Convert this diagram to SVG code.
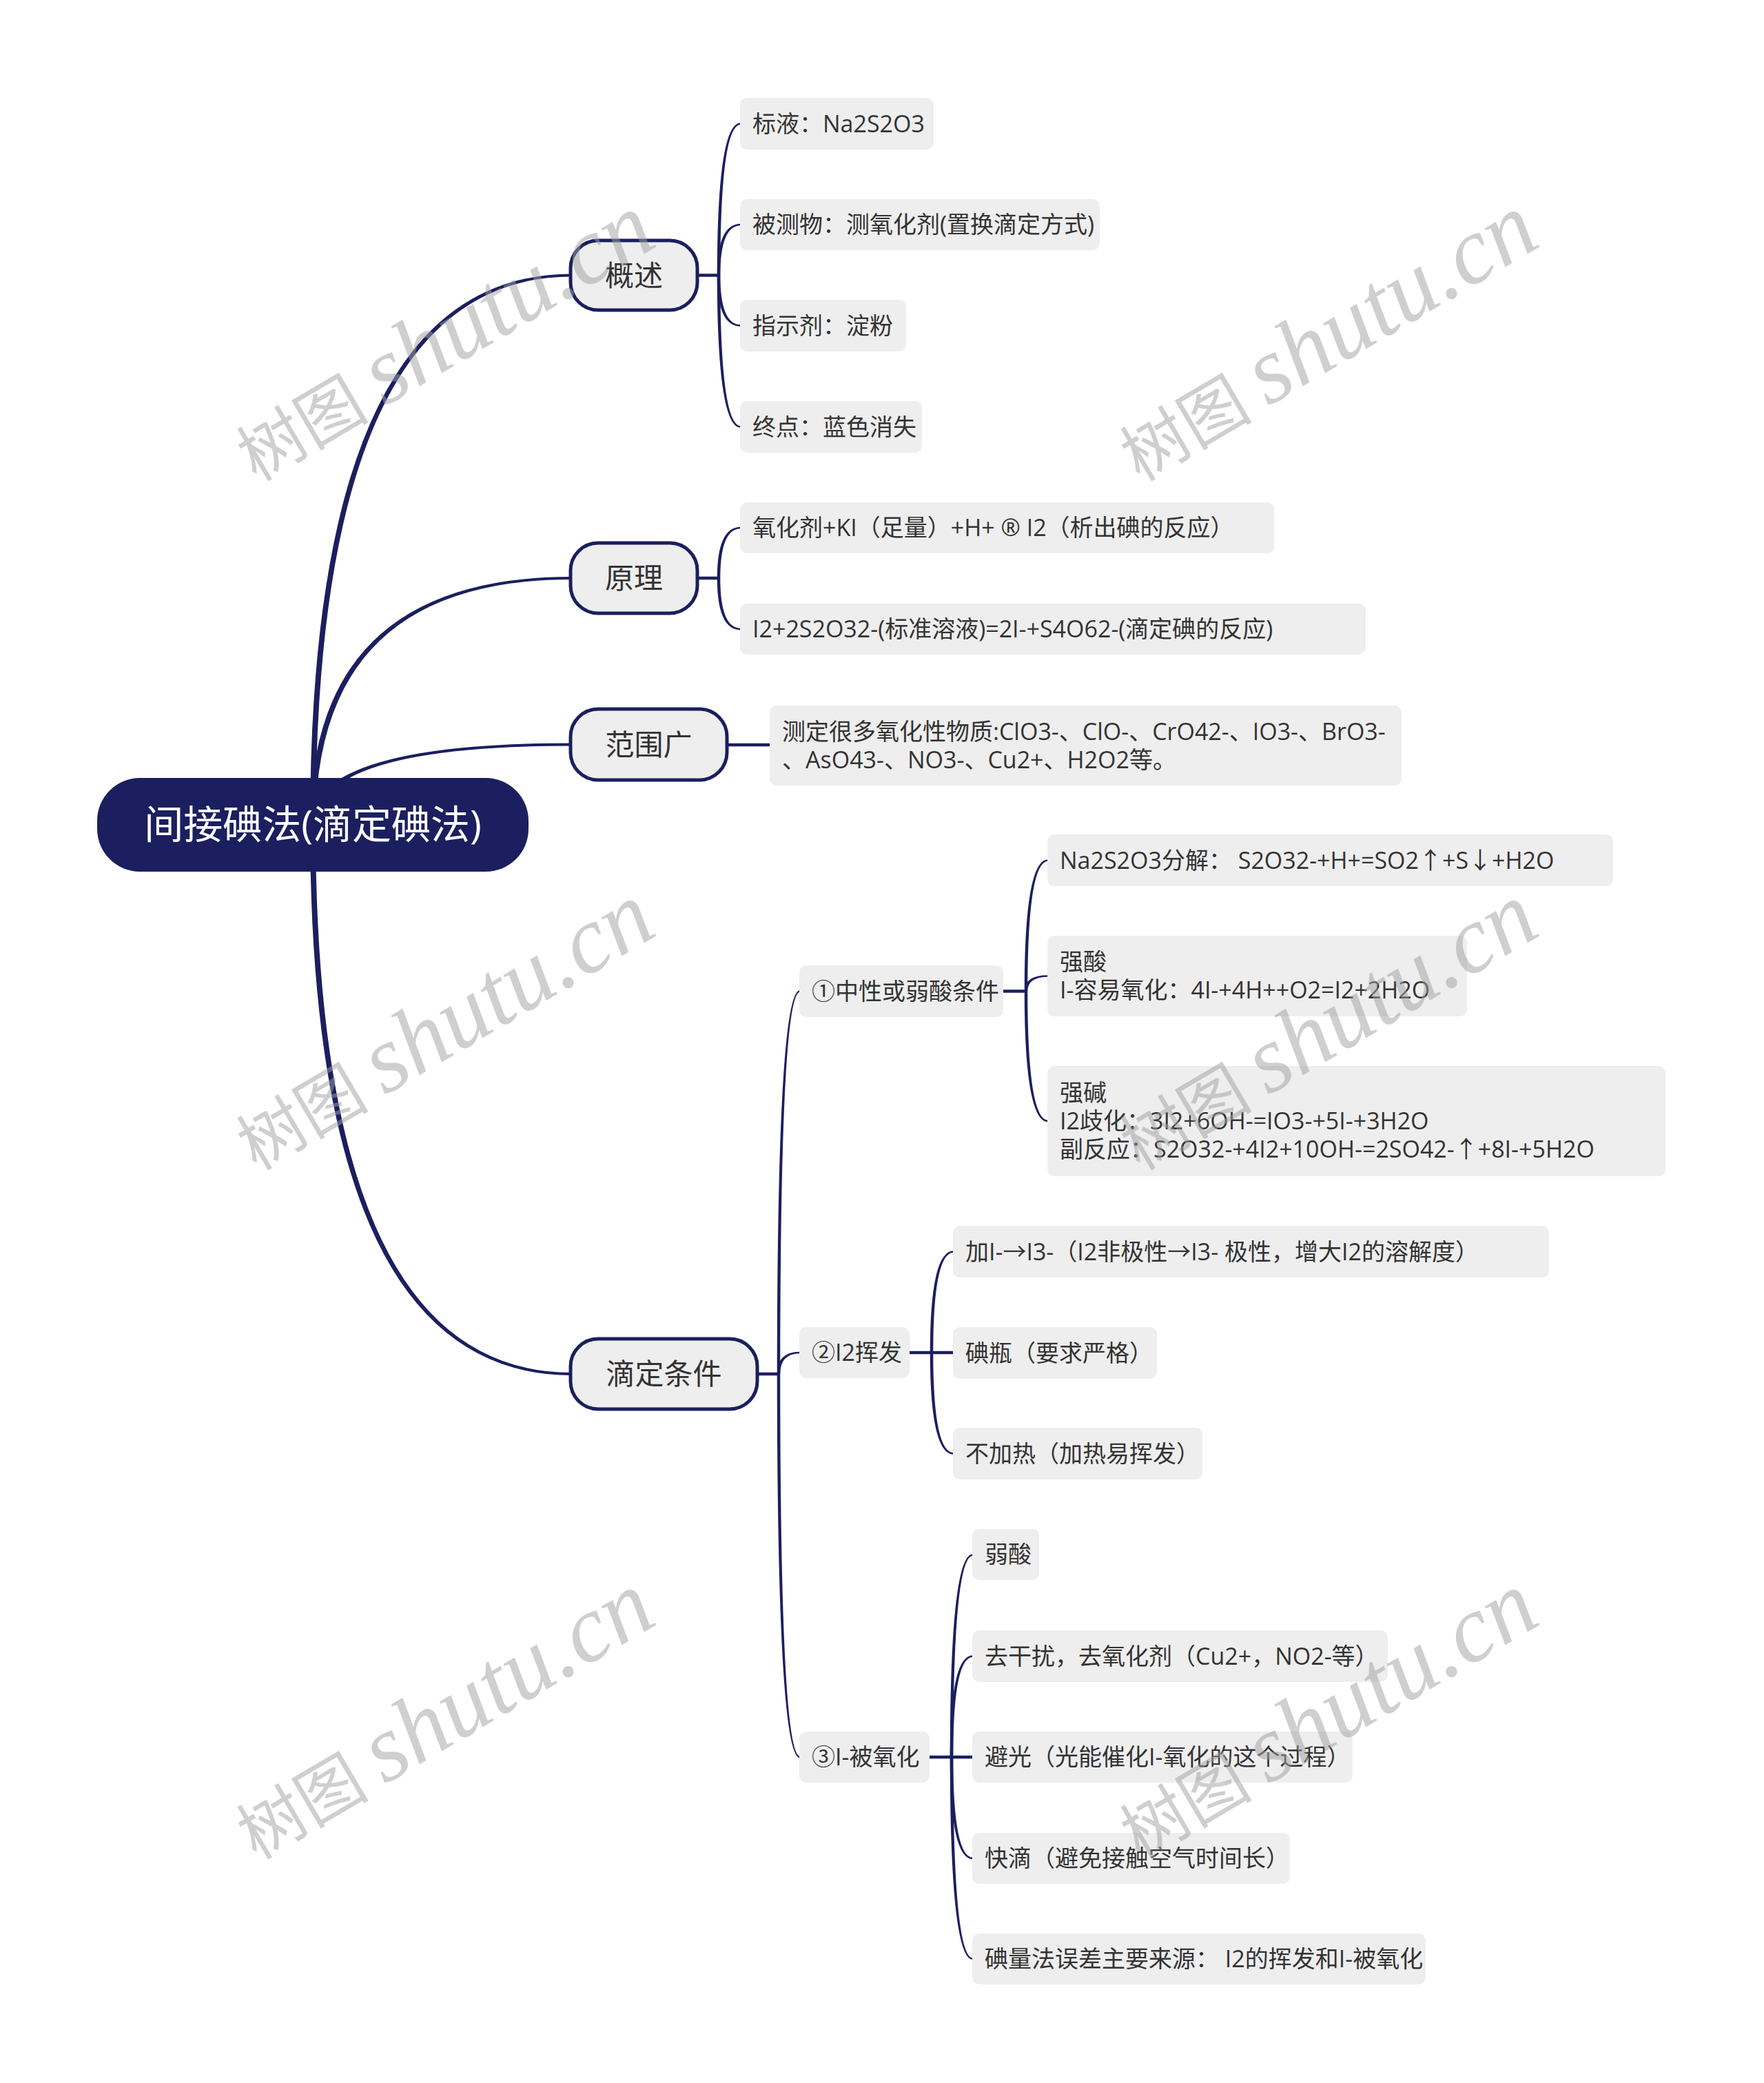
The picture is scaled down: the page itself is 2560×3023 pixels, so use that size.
<svg xmlns="http://www.w3.org/2000/svg" width="2560" height="3023" viewBox="0 0 2560 3023">
<style>
.bg{fill:#ffffff}
.conn{fill:#1b1f5f;stroke:none}
.stub{stroke:#1b1f5f;stroke-width:4.5;fill:none}
.root{fill:#1b1f5f}
.main{fill:#eeeeee;stroke:#1b1f5f;stroke-width:5}
.leaf{fill:#eeeeee}
.t{font-family:"Open Sans","Noto Sans CJK SC",sans-serif;font-size:34px;fill:#333333}
.l1{font-family:"Open Sans","Noto Sans CJK SC",sans-serif;font-size:42px;fill:#333333;text-anchor:middle}
.rt{font-family:"Open Sans","Noto Sans CJK SC",sans-serif;font-size:57px;fill:#ffffff;text-anchor:middle}
.wm{fill:#a0a0a0;opacity:0.5}
.wmc{font-family:"Noto Sans CJK SC",serif;font-size:96px}
.wml{font-family:"Liberation Serif",serif;font-style:italic;font-size:138px}
</style>
<rect class="bg" x="0" y="0" width="2560" height="3023"/>
<g id="connectors">
<path class="conn" d="M450 1197 Q450 397.5 830 397.5 L830 401.5 Q458 401.5 458 1197 Z"/>
<path class="conn" d="M450 1197 Q450 837 830 837 L830 841 Q458 841 458 1197 Z"/>
<path class="conn" d="M450 1197 Q450 1078.5 830 1078.5 L830 1082.5 Q458 1082.5 458 1197 Z"/>
<path class="conn" d="M450 1197 Q450 1996 830 1996 L830 1992 Q458 1992 458 1197 Z"/>
<path class="stub" d="M1010 399.5 H1045"/>
<path class="conn" d="M1040.75 399.5 Q1040.75 178.25 1075 178.25 L1075 180.75 Q1045.25 180.75 1045.25 399.5 Z"/>
<path class="conn" d="M1040.75 399.5 Q1040.75 324.75 1075 324.75 L1075 327.25 Q1045.25 327.25 1045.25 399.5 Z"/>
<path class="conn" d="M1040.75 399.5 Q1040.75 473.75 1075 473.75 L1075 471.25 Q1045.25 471.25 1045.25 399.5 Z"/>
<path class="conn" d="M1040.75 399.5 Q1040.75 620.75 1075 620.75 L1075 618.25 Q1045.25 618.25 1045.25 399.5 Z"/>
<path class="stub" d="M1010 839 H1045"/>
<path class="conn" d="M1040.75 839 Q1040.75 764.75 1075 764.75 L1075 767.25 Q1045.25 767.25 1045.25 839 Z"/>
<path class="conn" d="M1040.75 839 Q1040.75 914.25 1075 914.25 L1075 911.75 Q1045.25 911.75 1045.25 839 Z"/>
<path class="stub" d="M1053 1081 H1119"/>
<path class="stub" d="M1097 1994 H1132"/>
<path class="conn" d="M1127.75 1994 Q1127.75 1437.25 1161 1437.25 L1161 1439.75 Q1132.25 1439.75 1132.25 1994 Z"/>
<path class="conn" d="M1127.75 1994 Q1127.75 1961.75 1161 1961.75 L1161 1964.25 Q1132.25 1964.25 1132.25 1994 Z"/>
<path class="conn" d="M1127.75 1994 Q1127.75 2551.25 1161 2551.25 L1161 2548.75 Q1132.25 2548.75 1132.25 1994 Z"/>
<path class="stub" d="M1455 1438.5 H1491"/>
<path class="conn" d="M1486.75 1438.5 Q1486.75 1247.25 1521 1247.25 L1521 1249.75 Q1491.25 1249.75 1491.25 1438.5 Z"/>
<path class="conn" d="M1486.75 1438.5 Q1486.75 1415.25 1521 1415.25 L1521 1417.75 Q1491.25 1417.75 1491.25 1438.5 Z"/>
<path class="conn" d="M1486.75 1438.5 Q1486.75 1628.25 1521 1628.25 L1521 1625.75 Q1491.25 1625.75 1491.25 1438.5 Z"/>
<path class="stub" d="M1318 1963 H1386"/>
<path class="conn" d="M1349.75 1963 Q1349.75 1815.25 1384 1815.25 L1384 1817.75 Q1354.25 1817.75 1354.25 1963 Z"/>
<path class="conn" d="M1349.75 1963 Q1349.75 2110.75 1384 2110.75 L1384 2108.25 Q1354.25 2108.25 1354.25 1963 Z"/>
<path class="stub" d="M1347 2550 H1414"/>
<path class="conn" d="M1378.75 2550 Q1378.75 2255.25 1412 2255.25 L1412 2257.75 Q1383.25 2257.75 1383.25 2550 Z"/>
<path class="conn" d="M1378.75 2550 Q1378.75 2402.25 1412 2402.25 L1412 2404.75 Q1383.25 2404.75 1383.25 2550 Z"/>
<path class="conn" d="M1378.75 2550 Q1378.75 2698.25 1412 2698.25 L1412 2695.75 Q1383.25 2695.75 1383.25 2550 Z"/>
<path class="conn" d="M1378.75 2550 Q1378.75 2844.25 1412 2844.25 L1412 2841.75 Q1383.25 2841.75 1383.25 2550 Z"/>
</g>
<g id="root"><rect class="root" x="141" y="1129" width="626" height="136" rx="62"/><text class="rt" x="454" y="1217">间接碘法(滴定碘法)</text></g>
<g id="n-gaishu"><rect class="main" x="828" y="349" width="184" height="101" rx="40"/><text class="l1" x="920" y="414.5">概述</text></g>
<g id="n-yuanli"><rect class="main" x="828" y="788" width="184" height="102" rx="40"/><text class="l1" x="920" y="854">原理</text></g>
<g id="n-fanwei"><rect class="main" x="828" y="1029" width="227" height="103" rx="40"/><text class="l1" x="941.5" y="1095.5">范围广</text></g>
<g id="n-tiaojian"><rect class="main" x="828" y="1943" width="271" height="102" rx="40"/><text class="l1" x="963.5" y="2009">滴定条件</text></g>
<g id="l-biaoye"><rect class="leaf" x="1074" y="142" width="281" height="75" rx="10"/><text class="t" x="1092" y="191.5">标液：Na2S2O3</text></g>
<g id="l-beice"><rect class="leaf" x="1074" y="289" width="522" height="74" rx="10"/><text class="t" x="1092" y="338">被测物：测氧化剂(置换滴定方式)</text></g>
<g id="l-zhishi"><rect class="leaf" x="1074" y="435" width="241" height="75" rx="10"/><text class="t" x="1092" y="484.5">指示剂：淀粉</text></g>
<g id="l-zhongdian"><rect class="leaf" x="1074" y="582" width="264" height="75" rx="10"/><text class="t" x="1092" y="631.5">终点：蓝色消失</text></g>
<g id="l-yl1"><rect class="leaf" x="1074" y="729" width="775" height="74" rx="10"/><text class="t" x="1092" y="778">氧化剂+KI（足量）+H+ ® I2（析出碘的反应）</text></g>
<g id="l-yl2"><rect class="leaf" x="1074" y="876" width="908" height="74" rx="10"/><text class="t" x="1092" y="925">I2+2S2O32-(标准溶液)=2I-+S4O62-(滴定碘的反应)</text></g>
<g id="l-fw"><rect class="leaf" x="1117" y="1024" width="917" height="116" rx="10"/><text class="t" x="1135" y="1073.5">测定很多氧化性物质:ClO3-、ClO-、CrO42-、IO3-、BrO3-<tspan x="1135" dy="41">、AsO43-、NO3-、Cu2+、H2O2等。</tspan></text></g>
<g id="s-1"><rect class="leaf" x="1160" y="1401" width="296" height="75" rx="10"/><text class="t" x="1178" y="1450.5">①中性或弱酸条件</text></g>
<g id="s-2"><rect class="leaf" x="1160" y="1926" width="160" height="74" rx="10"/><text class="t" x="1178" y="1975">②I2挥发</text></g>
<g id="s-3"><rect class="leaf" x="1160" y="2513" width="189" height="74" rx="10"/><text class="t" x="1178" y="2562">③I-被氧化</text></g>
<g id="l-1a"><rect class="leaf" x="1520" y="1211" width="821" height="75" rx="10"/><text class="t" x="1538" y="1260.5">Na2S2O3分解： S2O32-+H+=SO2↑+S↓+H2O</text></g>
<g id="l-1b"><rect class="leaf" x="1520" y="1358" width="609" height="117" rx="10"/><text class="t" x="1538" y="1408">强酸<tspan x="1538" dy="41">I-容易氧化：4I-+4H++O2=I2+2H2O</tspan></text></g>
<g id="l-1c"><rect class="leaf" x="1520" y="1547" width="897" height="160" rx="10"/><text class="t" x="1538" y="1598">强碱<tspan x="1538" dy="41">I2歧化：3I2+6OH-=IO3-+5I-+3H2O</tspan><tspan x="1538" dy="41">副反应：S2O32-+4I2+10OH-=2SO42-↑+8I-+5H2O</tspan></text></g>
<g id="l-2a"><rect class="leaf" x="1383" y="1779" width="865" height="75" rx="10"/><text class="t" x="1401" y="1828.5">加I-→I3-（I2非极性→I3- 极性，增大I2的溶解度）</text></g>
<g id="l-2b"><rect class="leaf" x="1383" y="1926" width="296" height="75" rx="10"/><text class="t" x="1401" y="1975.5">碘瓶（要求严格）</text></g>
<g id="l-2c"><rect class="leaf" x="1383" y="2072" width="362" height="75" rx="10"/><text class="t" x="1401" y="2121.5">不加热（加热易挥发）</text></g>
<g id="l-3a"><rect class="leaf" x="1411" y="2219" width="97" height="74" rx="10"/><text class="t" x="1429" y="2268">弱酸</text></g>
<g id="l-3b"><rect class="leaf" x="1411" y="2366" width="603" height="75" rx="10"/><text class="t" x="1429" y="2415.5">去干扰，去氧化剂（Cu2+，NO2-等）</text></g>
<g id="l-3c"><rect class="leaf" x="1411" y="2513" width="552" height="74" rx="10"/><text class="t" x="1429" y="2562">避光（光能催化I-氧化的这个过程）</text></g>
<g id="l-3d"><rect class="leaf" x="1411" y="2660" width="461" height="74" rx="10"/><text class="t" x="1429" y="2709">快滴（避免接触空气时间长）</text></g>
<g id="l-3e"><rect class="leaf" x="1411" y="2806" width="658" height="74" rx="10"/><text class="t" x="1429" y="2855">碘量法误差主要来源： I2的挥发和I-被氧化</text></g>
<g id="watermarks">
<text class="wm" transform="translate(372 700) rotate(-30.5)"><tspan class="wmc">树图</tspan><tspan class="wml" dx="24">shutu.cn</tspan></text>
<text class="wm" transform="translate(1654 700) rotate(-30.5)"><tspan class="wmc">树图</tspan><tspan class="wml" dx="24">shutu.cn</tspan></text>
<text class="wm" transform="translate(372 1700) rotate(-30.5)"><tspan class="wmc">树图</tspan><tspan class="wml" dx="24">shutu.cn</tspan></text>
<text class="wm" transform="translate(1654 1700) rotate(-30.5)"><tspan class="wmc">树图</tspan><tspan class="wml" dx="24">shutu.cn</tspan></text>
<text class="wm" transform="translate(372 2700) rotate(-30.5)"><tspan class="wmc">树图</tspan><tspan class="wml" dx="24">shutu.cn</tspan></text>
<text class="wm" transform="translate(1654 2700) rotate(-30.5)"><tspan class="wmc">树图</tspan><tspan class="wml" dx="24">shutu.cn</tspan></text>
</g>
</svg>
